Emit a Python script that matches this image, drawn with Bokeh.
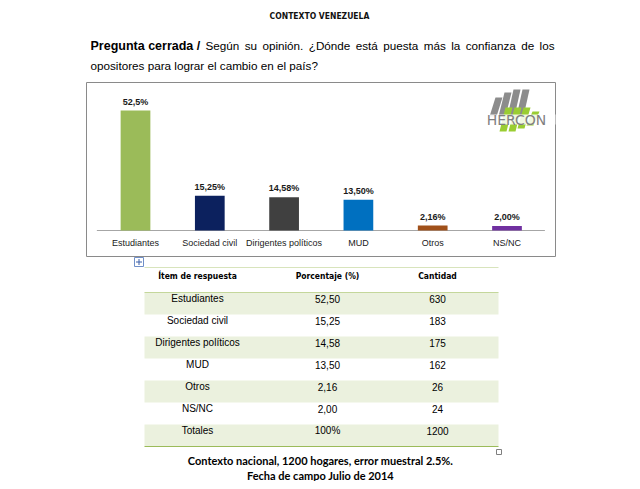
from bokeh.plotting import figure
from bokeh.models import Range1d
from bokeh.core.properties import value
from bokeh.embed import file_html
from bokeh.resources import INLINE

# ---------------- data ----------------
title_text = "CONTEXTO VENEZUELA"
question_bold = "Pregunta cerrada /"
question_line1 = "Según su opinión. ¿Dónde está puesta más la confianza de los"
question_line2 = "opositores para lograr el cambio en el país?"

categories = ["Estudiantes", "Sociedad civil", "Dirigentes políticos", "MUD", "Otros", "NS/NC"]
percentages = [52.5, 15.25, 14.58, 13.50, 2.16, 2.00]
bar_labels = ["52,5%", "15,25%", "14,58%", "13,50%", "2,16%", "2,00%"]
bar_colors = ["#9BBB59", "#0C215E", "#404040", "#0070C0", "#A0501A", "#7030A0"]

table_header = ["Ítem de respuesta", "Porcentaje (%)", "Cantidad"]
table_items = ["Estudiantes", "Sociedad civil", "Dirigentes políticos", "MUD", "Otros", "NS/NC", "Totales"]
table_pct = ["52,50", "15,25", "14,58", "13,50", "2,16", "2,00", "100%"]
table_counts = ["630", "183", "175", "162", "26", "24", "1200"]

footer_lines = ["Contexto nacional, 1200 hogares, error muestral 2.5%.",
                "Fecha de campo Julio de 2014"]
logo_text = "HERCON"

# ---------------- page figure (page pixel coordinates for layout) ----------------
W, H = 624, 481
p = figure(width=W, height=H, output_backend="svg", toolbar_location=None,
           x_range=Range1d(0, W), y_range=Range1d(H, 0),
           x_axis_location=None, y_axis_location=None,
           min_border=0, outline_line_color=None)
p.grid.visible = False
p.background_fill_color = "white"
p.border_fill_color = "white"

ARIAL = value("Liberation Sans")
NARROW = value("DejaVu Sans Condensed")

# title
p.text(x=[319], y=[15], text=[title_text], text_font=NARROW, text_font_style="bold",
       text_font_size="8.5px", text_align="center", text_baseline="middle", text_color="#111111")

# question (first line justified between x=205 and x=554 using Arial metrics)
ARIAL_W = {" ": 278, ".": 278, "¿": 611, "?": 556, "S": 667, "D": 722, "a": 556, "á": 556,
           "c": 500, "d": 556, "e": 556, "f": 278, "g": 556, "i": 222, "í": 278, "l": 222,
           "m": 833, "n": 556, "o": 556, "ó": 556, "p": 556, "r": 333, "s": 500, "t": 278,
           "u": 556, "ú": 556, "z": 500}
q_size = 11.7
words = question_line1.split(" ")
word_w = [sum(ARIAL_W.get(ch, 556) for ch in w) / 1000 * q_size for w in words]
j_left, j_right = 205, 554
gap = (j_right - j_left - sum(word_w)) / (len(words) - 1)
word_x, cur = [], j_left
for w in word_w:
    word_x.append(cur)
    cur += w + gap

p.text(x=[90], y=[45], text=[question_bold], text_font=ARIAL, text_font_style="bold",
       text_font_size="12.5px", text_align="left", text_baseline="middle", text_color="black")
p.text(x=word_x, y=[45] * len(words), text=words, text_font=ARIAL,
       text_font_size=f"{q_size}px", text_align="left", text_baseline="middle",
       text_color="black")
p.text(x=[90], y=[65], text=[question_line2], text_font=ARIAL,
       text_font_size=f"{q_size}px", text_align="left", text_baseline="middle",
       text_color="black")

# chart box
p.quad(left=[86], right=[555], top=[82], bottom=[256], fill_color=None,
       line_color="#8A8A8A", line_width=1)

# chart scales: category index on x, percentage on y
cat_first_px, cat_step_px = 135.0, 74.3     # page x of first category, spacing
base_px, px_per_pct = 230.0, 120 / 52.5     # page y of baseline, pixels per percent
p.extra_x_ranges = {"cat": Range1d(-cat_first_px / cat_step_px,
                                   (W - cat_first_px) / cat_step_px)}
p.extra_y_ranges = {"pct": Range1d(-(H - base_px) / px_per_pct, base_px / px_per_pct)}
cat_pos = list(range(len(categories)))

# baseline
p.segment(x0=[-0.52], x1=[len(categories) - 0.49], y0=[0], y1=[0],
          x_range_name="cat", y_range_name="pct", line_color="#A6A6A6", line_width=1)

p.vbar(x=cat_pos, top=percentages, bottom=0, width=0.4, fill_color=bar_colors,
       line_color=None, x_range_name="cat", y_range_name="pct")
p.text(x=cat_pos, y=percentages, text=bar_labels, x_range_name="cat", y_range_name="pct",
       y_offset=-9, text_font=ARIAL, text_font_style="bold", text_font_size="9px",
       text_align="center", text_baseline="middle", text_color="#1a1a1a")
p.text(x=cat_pos, y=[0] * len(categories), text=categories, x_range_name="cat",
       y_range_name="pct", y_offset=12, text_font=ARIAL, text_font_size="9px",
       text_align="center", text_baseline="middle", text_color="#1a1a1a")

# logo (decoration)
gray_xs, gray_ys, green_xs, green_ys = [], [], [], []
gray_tops = [97, 92, 89, 89]
for i in range(4):
    x0 = 489 + 9 * i
    t = gray_tops[i]
    gray_xs.append([x0, x0 + 7, x0 + 7 + 6, x0 + 6])
    gray_ys.append([116, 116, t, t])
green_tops = [107, 107, 107, 111]
green_bots = [131, 131, 128, 125]
for i in range(4):
    x0 = 499 + 9 * i
    green_xs.append([x0, x0 + 7, x0 + 7 + 6, x0 + 6])
    green_ys.append([green_bots[i], green_bots[i], green_tops[i], green_tops[i]])
p.patches(gray_xs, gray_ys, fill_color="#8C8C8C", line_color=None)
p.patches(green_xs, green_ys, fill_color="#9ACD32", line_color=None)
p.quad(left=[478], right=[555], top=[114], bottom=[124], fill_color="white",
       fill_alpha=0.85, line_color=None)
p.text(x=[516], y=[119], text=[logo_text], text_font=value("DejaVu Sans"),
       text_font_size="14px", text_align="center", text_baseline="middle",
       text_color="#7F7F7F")

# table
tbl_left, tbl_right = 144, 498
col_x = [197, 327, 437]
row_h = 22
body_top = 292
n_rows = len(table_items)
row_tops = [body_top + row_h * i for i in range(n_rows)]
shaded = [i for i in range(n_rows) if i % 2 == 0]
p.quad(left=[tbl_left] * len(shaded), right=[tbl_right] * len(shaded),
       top=[row_tops[i] for i in shaded], bottom=[row_tops[i] + row_h for i in shaded],
       fill_color="#EBF1DE", line_color=None)
p.segment(x0=[tbl_left, tbl_left, tbl_left], x1=[tbl_right] * 3,
          y0=[267, body_top, body_top + row_h * n_rows],
          y1=[267, body_top, body_top + row_h * n_rows],
          line_color=["#D8E4BC", "#C4D79B", "#9BBB59"], line_width=1)
p.text(x=col_x, y=[275] * 3, text=table_header, text_font=NARROW, text_font_style="bold",
       text_font_size="8.5px", text_align="center", text_baseline="middle", text_color="black")
for col, vals in zip(col_x, [table_items, table_pct, table_counts]):
    p.text(x=[col] * n_rows, y=[t + 6 for t in row_tops], text=vals, text_font=ARIAL,
           text_font_size="10px", text_align="center", text_baseline="middle",
           text_color="black")

# small table handles (decoration)
p.quad(left=[134], right=[143], top=[257], bottom=[266], fill_color="white",
       line_color="#6F8FC8", line_width=1)
p.segment(x0=[135.5, 138.5], x1=[141.5, 138.5], y0=[261.5, 258.5], y1=[261.5, 264.5],
          line_color="#3A5FA8", line_width=1)
p.quad(left=[496], right=[501], top=[449], bottom=[454], fill_color="white",
       line_color="#7F7F7F", line_width=1)

# footer
p.text(x=[320, 320], y=[460, 475], text=footer_lines, text_font=value("Lato"),
       text_font_style="bold", text_font_size="11px", text_align="center",
       text_baseline="middle", text_color="black")

open("out.html", "w").write(file_html(p, INLINE))
